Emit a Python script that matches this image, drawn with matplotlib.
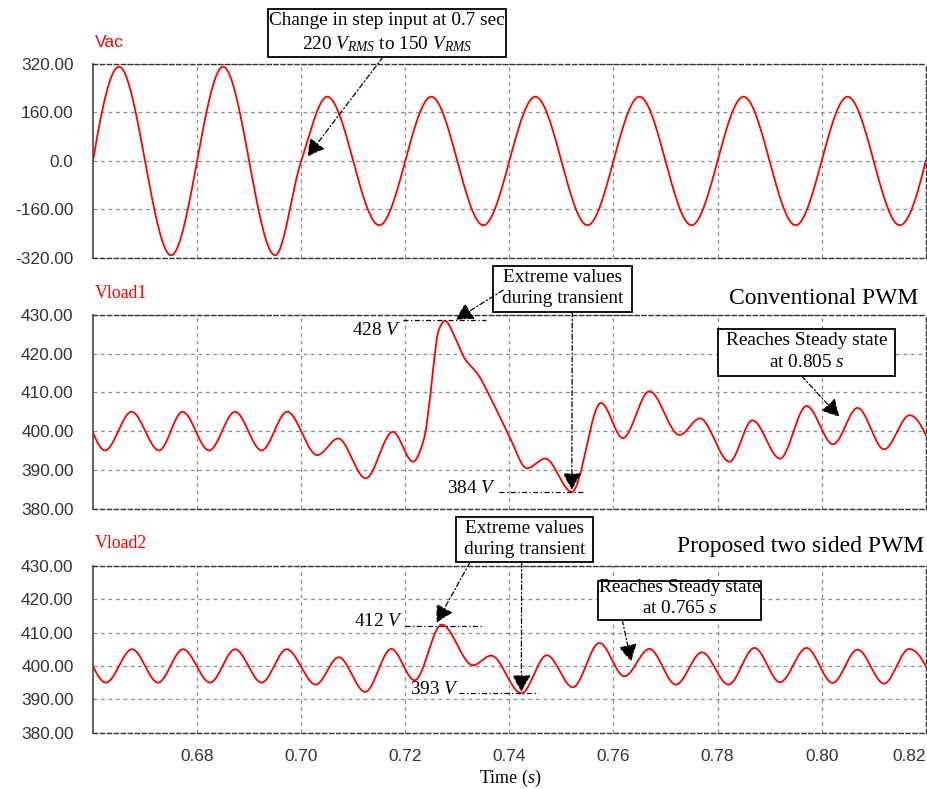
import numpy as np
import matplotlib
matplotlib.use("Agg")
import matplotlib.pyplot as plt
from matplotlib.patches import Rectangle

# ---------------- data ----------------
vac_t = [0.660, 0.665, 0.675, 0.685, 0.695, 0.700, 0.705, 0.715, 0.725, 0.735,
         0.745, 0.755, 0.765, 0.775, 0.785, 0.795, 0.805, 0.815, 0.820]
vac_v = [0, 311, -311, 311, -311, 0, 212, -212, 212, -212,
         212, -212, 212, -212, 212, -212, 212, -212, 0]

vl1_t = [0.6600, 0.6623, 0.6674, 0.6727, 0.6772, 0.6823, 0.6873, 0.6924, 0.6973,
         0.7031, 0.7071, 0.7124, 0.7176, 0.7215, 0.7236, 0.7247, 0.7255, 0.7264,
         0.7276, 0.7298, 0.7314, 0.7340, 0.7364, 0.7400, 0.7434, 0.7469, 0.7520,
         0.7576, 0.7618, 0.7669, 0.7727, 0.7766, 0.7823, 0.7867, 0.7920, 0.7971,
         0.8022, 0.8069, 0.8120, 0.8169, 0.8200]
vl1_v = [399.6, 395.0, 405.0, 395.0, 405.0, 395.0, 405.0, 395.0, 405.0,
         393.8, 398.1, 387.8, 399.8, 392.1, 398.0, 408.0, 418.0, 426.0,
         428.5, 423.5, 418.8, 414.6, 408.6, 398.6, 390.4, 392.9, 384.3,
         407.3, 398.2, 410.3, 399.0, 403.3, 392.1, 402.8, 392.9, 406.5,
         396.6, 406.0, 395.3, 404.1, 399.0]

vl2_t = [0.6600, 0.6625, 0.6675, 0.6725, 0.6773, 0.6825, 0.6873, 0.6924, 0.6972,
         0.7028, 0.7072, 0.7123, 0.7173, 0.7218, 0.7270, 0.7330, 0.7365, 0.7423,
         0.7472, 0.7522, 0.7573, 0.7621, 0.7669, 0.7720, 0.7770, 0.7821, 0.7871,
         0.7920, 0.7971, 0.8021, 0.8069, 0.8120, 0.8168, 0.8200]
vl2_v = [399.9, 395.0, 405.0, 395.0, 405.0, 395.0, 405.0, 395.0, 405.0,
         394.4, 402.6, 392.2, 405.1, 395.7, 412.4, 400.2, 403.1, 391.8,
         403.2, 393.6, 406.9, 396.9, 405.1, 394.4, 404.1, 394.4, 405.4,
         395.1, 405.4, 394.9, 404.9, 394.7, 405.1, 399.9]

x_ticks = [0.68, 0.70, 0.72, 0.74, 0.76, 0.78, 0.80, 0.82]
x_ticklabels = ["0.68", "0.70", "0.72", "0.74", "0.76", "0.78", "0.80", "0.82"]
vac_ticks = [-320, -160, 0, 160, 320]
vac_ticklabels = ["-320.00", "-160.00", "0.0", "160.00", "320.00"]
vl_ticks = [380, 390, 400, 410, 420, 430]
vl_ticklabels = ["380.00", "390.00", "400.00", "410.00", "420.00", "430.00"]

# ---------------- helpers ----------------
def smooth_curve(x, y, xs):
    """Monotone piecewise-cubic (PCHIP) drawing of the read points."""
    x = np.asarray(x, float); y = np.asarray(y, float)
    h = np.diff(x); d = np.diff(y) / h
    n = len(x); m = np.zeros(n)
    for k in range(1, n - 1):
        if d[k - 1] * d[k] > 0:
            w1 = 2 * h[k] + h[k - 1]; w2 = h[k] + 2 * h[k - 1]
            m[k] = (w1 + w2) / (w1 / d[k - 1] + w2 / d[k])
    def endslope(h0, h1, d0, d1):
        s = ((2 * h0 + h1) * d0 - h0 * d1) / (h0 + h1)
        if np.sign(s) != np.sign(d0):
            s = 0.0
        elif np.sign(d0) != np.sign(d1) and abs(s) > 3 * abs(d0):
            s = 3 * d0
        return s
    m[0] = endslope(h[0], h[1], d[0], d[1])
    m[-1] = endslope(h[-1], h[-2], d[-1], d[-2])
    idx = np.clip(np.searchsorted(x, xs) - 1, 0, n - 2)
    hh = h[idx]; s = (xs - x[idx]) / hh
    h00 = 2 * s**3 - 3 * s**2 + 1; h10 = s**3 - 2 * s**2 + s
    h01 = -2 * s**3 + 3 * s**2; h11 = s**3 - s**2
    return h00 * y[idx] + h10 * hh * m[idx] + h01 * y[idx + 1] + h11 * hh * m[idx + 1]

plt.rcParams["mathtext.fontset"] = "custom"
plt.rcParams["mathtext.rm"] = "Liberation Serif"
plt.rcParams["mathtext.it"] = "Liberation Serif:italic"
plt.rcParams["mathtext.bf"] = "Liberation Serif:bold"

SERIF = "Liberation Serif"
SANS = "Liberation Sans"
RED = "#ff0000"
DASHDOT = (0, (4, 2, 1, 2))

fig = plt.figure(figsize=(9.27, 7.89), dpi=100)
ax1 = fig.add_axes([0.1003, 0.6730, 0.8983, 0.2459])
ax2 = fig.add_axes([0.1003, 0.3555, 0.8983, 0.2452])
ax3 = fig.add_axes([0.1003, 0.0716, 0.8983, 0.2110])

def style(ax, ylim, yticks, ylabels, show_x):
    ax.set_xlim(0.66, 0.82)
    ax.set_ylim(*ylim)
    ax.set_yticks(yticks)
    ax.set_yticklabels(ylabels, family=SANS, size=12.4, color="#333333")
    ax.set_xticks(x_ticks)
    if show_x:
        ax.set_xticklabels(x_ticklabels, family=SANS, size=12.4, color="#333333")
        ax.get_xticklabels()[-1].set_ha("right")
    else:
        ax.set_xticklabels([])
    ax.tick_params(length=0, pad=14, axis="y")
    ax.tick_params(length=0, pad=12, axis="x")
    ax.grid(True, color="#8c8c8c", linestyle=(0, (3, 3)), linewidth=0.9)
    for side in ["top", "right", "bottom"]:
        ax.spines[side].set_linestyle((0, (3, 2)))
        ax.spines[side].set_color("#333333")
        ax.spines[side].set_linewidth(1.0)
    ax.spines["left"].set_color("#555555")
    ax.spines["left"].set_linewidth(1.3)

tt = np.linspace(0.66, 0.82, 4000)

for ax, ts, vs in [(ax1, vac_t, vac_v), (ax2, vl1_t, vl1_v), (ax3, vl2_t, vl2_v)]:
    ax.plot(tt, smooth_curve(ts, vs, tt), color=RED, lw=1.3, zorder=3)

style(ax1, (-320, 320), vac_ticks, vac_ticklabels, False)
style(ax2, (380, 430), vl_ticks, vl_ticklabels, False)
style(ax3, (380, 430), vl_ticks, vl_ticklabels, True)

# series names
ax1.text(0.0024, 1.113, "Vac", transform=ax1.transAxes, color=RED, family=SANS,
         size=12.6, ha="left", va="center")
ax2.text(0.0024, 1.112, "Vload1", transform=ax2.transAxes, color=RED, family=SERIF,
         size=12.8, ha="left", va="center")
ax3.text(0.0024, 1.138, "Vload2", transform=ax3.transAxes, color=RED, family=SERIF,
         size=12.8, ha="left", va="center")

ax3.text(0.5008, -0.273, "Time ($s$)", transform=ax3.transAxes, family=SERIF,
         size=13, ha="center", va="center")

def box(ax, x0, y0, x1, y1, lines):
    ax.add_patch(Rectangle((x0, y0), x1 - x0, y1 - y0, transform=ax.transAxes,
                           facecolor="white", edgecolor="black", lw=1.3,
                           clip_on=False, zorder=6))
    for yl, s in lines:
        ax.text((x0 + x1) / 2, yl, s, transform=ax.transAxes, family=SERIF,
                size=13.9, ha="center", va="center", zorder=7)

def arrow(ax, xy, xytext):
    ax.annotate("", xy=xy, xycoords="data", xytext=xytext, textcoords="axes fraction",
                arrowprops=dict(arrowstyle="-|>,head_length=0.55,head_width=0.3",
                                linestyle=DASHDOT, lw=0.9, color="black",
                                shrinkA=0, shrinkB=0, mutation_scale=19),
                annotation_clip=False, zorder=8)

def refline(ax, t0, t1, v):
    ax.plot([t0, t1], [v, v], color="black", lw=0.9, linestyle=DASHDOT, zorder=4)

# ---- panel 1 annotation
box(ax1, 0.2102, 1.036, 0.4960, 1.2835,
    [(1.222, "Change in step input at 0.7 sec"),
     (1.100, "220 $V_{RMS}$ to 150 $V_{RMS}$")])
arrow(ax1, (vac_t[5] + 0.0012, vac_v[5] + 15), (0.3483, 1.036))

# ---- panel 2 annotations
i_max1 = int(np.argmax(vl1_v)); i_min1 = int(np.argmin(vl1_v))
tp1, vp1 = vl1_t[i_max1], vl1_v[i_max1]
tm1, vm1 = vl1_t[i_min1], vl1_v[i_min1]
refline(ax2, tp1 - 0.008, tp1 + 0.008, vp1 + 0.3)
refline(ax2, tm1 - 0.0139, tm1 + 0.0024, vm1)
ax2.text(tp1 - 0.0083, vp1 - 2.4, "428 $V$", family=SERIF, size=13.9,
         ha="right", va="center")
ax2.text(tm1 - 0.0145, vm1 + 0.9, "384 $V$", family=SERIF, size=13.9,
         ha="right", va="center")
box(ax2, 0.480, 1.017, 0.6477, 1.253,
    [(1.195, "Extreme values"), (1.083, "during transient")])
arrow(ax2, (tp1 + 0.0021, vp1 + 0.3), (0.4927, 1.129))
arrow(ax2, (tm1, vm1 + 0.5), (0.5756, 1.017))
ax2.text(0.991, 1.086, "Conventional PWM", transform=ax2.transAxes, family=SERIF,
         size=17, ha="right", va="center")
box(ax2, 0.751, 0.685, 0.963, 0.926,
    [(0.867, "Reaches Steady state"), (0.755, "at 0.805 $s$")])
arrow(ax2, (0.8034, 403.7), (0.851, 0.685))

# ---- panel 3 annotations
i_max2 = int(np.argmax(vl2_v)); i_min2 = int(np.argmin(vl2_v))
tp2, vp2 = vl2_t[i_max2], vl2_v[i_max2]
tm2, vm2 = vl2_t[i_min2], vl2_v[i_min2]
refline(ax3, tp2 - 0.0071, tp2 + 0.0082, vp2 - 0.3)
refline(ax3, tm2 - 0.0119, tm2 + 0.0032, vm2)
ax3.text(tp2 - 0.0073, vp2 + 1.0, "412 $V$", family=SERIF, size=13.9,
         ha="right", va="center")
ax3.text(tm2 - 0.0119, vm2 + 1.2, "393 $V$", family=SERIF, size=13.9,
         ha="right", va="center")
box(ax3, 0.436, 1.022, 0.6008, 1.2925,
    [(1.226, "Extreme values"), (1.097, "during transient")])
arrow(ax3, (tp2 - 0.0010, vp2 + 0.6), (0.4527, 1.022))
arrow(ax3, (tm2, vm2 + 0.4), (0.5148, 1.022))
ax3.text(0.998, 1.12, "Proposed two sided PWM", transform=ax3.transAxes,
         family=SERIF, size=17, ha="right", va="center")
box(ax3, 0.6068, 0.6757, 0.8022, 0.910,
    [(0.872, "Reaches Steady state"), (0.742, "at 0.765 $s$")])
arrow(ax3, (0.7634, 401.3), (0.6356, 0.6757))

fig.savefig("out.png", dpi=100)
